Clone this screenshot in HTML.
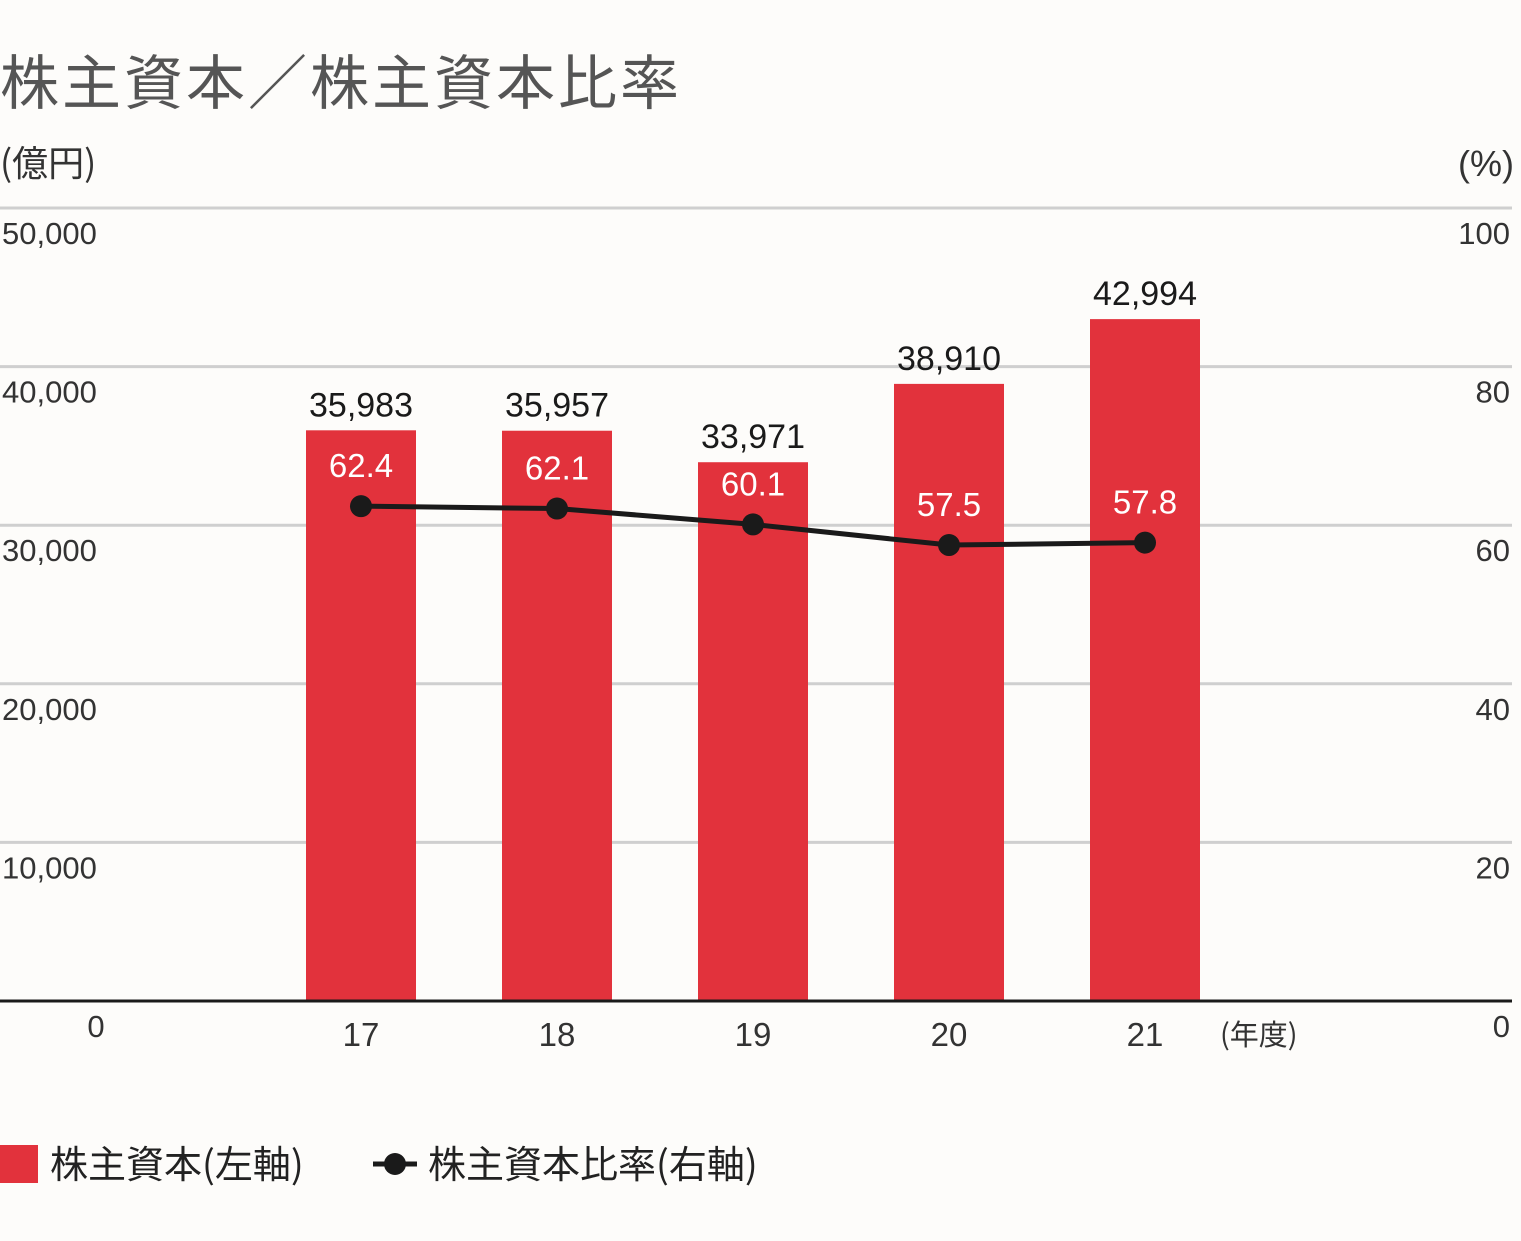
<!DOCTYPE html>
<html><head><meta charset="utf-8"><style>
html,body{margin:0;padding:0;background:#fdfcfa;}
svg{display:block;font-family:"Liberation Sans","Noto Sans CJK JP",sans-serif;}
</style></head><body>
<svg id="chart" width="1521" height="1241" viewBox="0 0 1521 1241" xmlns="http://www.w3.org/2000/svg">
<rect width="1521" height="1241" fill="#fdfcfa"/>
<text x="0" y="104" font-size="59" fill="#555" letter-spacing="3" font-family="'Noto Sans CJK JP',sans-serif">株主資本／株主資本比率</text>
<text x="0" y="176" font-size="36" fill="#333" font-family="'Noto Sans CJK JP',sans-serif">(億円)</text>
<text x="1514" y="176" font-size="36" fill="#333" text-anchor="end">(%)</text>
<g id="grid"></g>
<g id="bars"></g>
<g id="line"></g>
<g id="labels"></g>
<line x1="0" y1="1001" x2="1512" y2="1001" stroke="#1a1a1a" stroke-width="3"/>
<text x="1220" y="1045" font-size="29" fill="#333" font-family="'Noto Sans CJK JP',sans-serif">(年度)</text>
<g>
<rect x="0" y="1145" width="38" height="38" fill="#e2323c"/>
<text x="50" y="1178" font-size="38" fill="#222" font-family="'Noto Sans CJK JP',sans-serif">株主資本(左軸)</text>
<line x1="373" y1="1164" x2="417" y2="1164" stroke="#1a1a1a" stroke-width="5"/>
<circle cx="395" cy="1164" r="11" fill="#1a1a1a"/>
<text x="428" y="1178" font-size="38" fill="#222" font-family="'Noto Sans CJK JP',sans-serif">株主資本比率(右軸)</text>
</g>
</svg>
<script>
const categories = ["17","18","19","20","21"];
const equity = [35983, 35957, 33971, 38910, 42994];
const ratio = [62.4, 62.1, 60.1, 57.5, 57.8];
const leftTicks = [0, 10000, 20000, 30000, 40000, 50000];
const rightTicks = [0, 20, 40, 60, 80, 100];

const NS = "http://www.w3.org/2000/svg";
const y0 = 1001, yTop = 208;
const yL = v => y0 - (v / 50000) * (y0 - yTop);
const yR = v => y0 - (v / 100) * (y0 - yTop);
const xC = i => 361 + i * 196;
const barW = 110;
function mk(tag, attrs, parent, txt) {
  const e = document.createElementNS(NS, tag);
  for (const k in attrs) e.setAttribute(k, attrs[k]);
  if (txt !== undefined) e.textContent = txt;
  parent.appendChild(e);
  return e;
}
const grid = document.getElementById("grid");
const bars = document.getElementById("bars");
const line = document.getElementById("line");
const labels = document.getElementById("labels");

leftTicks.forEach((t, i) => {
  const y = yL(t);
  if (t > 0) {
    const g = mk("line", {x1: 0, x2: 1512, y1: y, y2: y, stroke: "#cfcfcf", "stroke-width": 3}, grid);
    
    
  }
  const lab = mk("text", {x: t === 0 ? 96 : 2, y: y + 36, "font-size": 31, fill: "#333", "text-anchor": t === 0 ? "middle" : "start"}, labels, t.toLocaleString("en-US"));
  
  
});
rightTicks.forEach(t => {
  const lab = mk("text", {x: 1510, y: yR(t) + 36, "font-size": 31, fill: "#333", "text-anchor": "end"}, labels, String(t));
  
  
});
categories.forEach((c, i) => {
  const top = yL(equity[i]);
  const b = mk("rect", {x: xC(i) - barW / 2, y: top, width: barW, height: y0 - top, fill: "#e2323c"}, bars);
  
  
  const v = mk("text", {x: xC(i), y: top - 14, "font-size": 34, fill: "#1a1a1a", "text-anchor": "middle"}, labels, equity[i].toLocaleString("en-US"));
  
  
  const x = mk("text", {x: xC(i), y: 1046, "font-size": 33, fill: "#333", "text-anchor": "middle"}, labels, c);
  
  
});
const pts = ratio.map((r, i) => xC(i) + "," + yR(r)).join(" ");
const pl = mk("polyline", {points: pts, fill: "none", stroke: "#1a1a1a", "stroke-width": 5}, line);


ratio.forEach((r, i) => {
  const c = mk("circle", {cx: xC(i), cy: yR(r), r: 11, fill: "#1a1a1a"}, line);
  
  
  const t = mk("text", {x: xC(i), y: yR(r) - 29, "font-size": 33, fill: "#ffffff", "text-anchor": "middle"}, labels, r.toFixed(1));
  
  
});
</script>
</body></html>
